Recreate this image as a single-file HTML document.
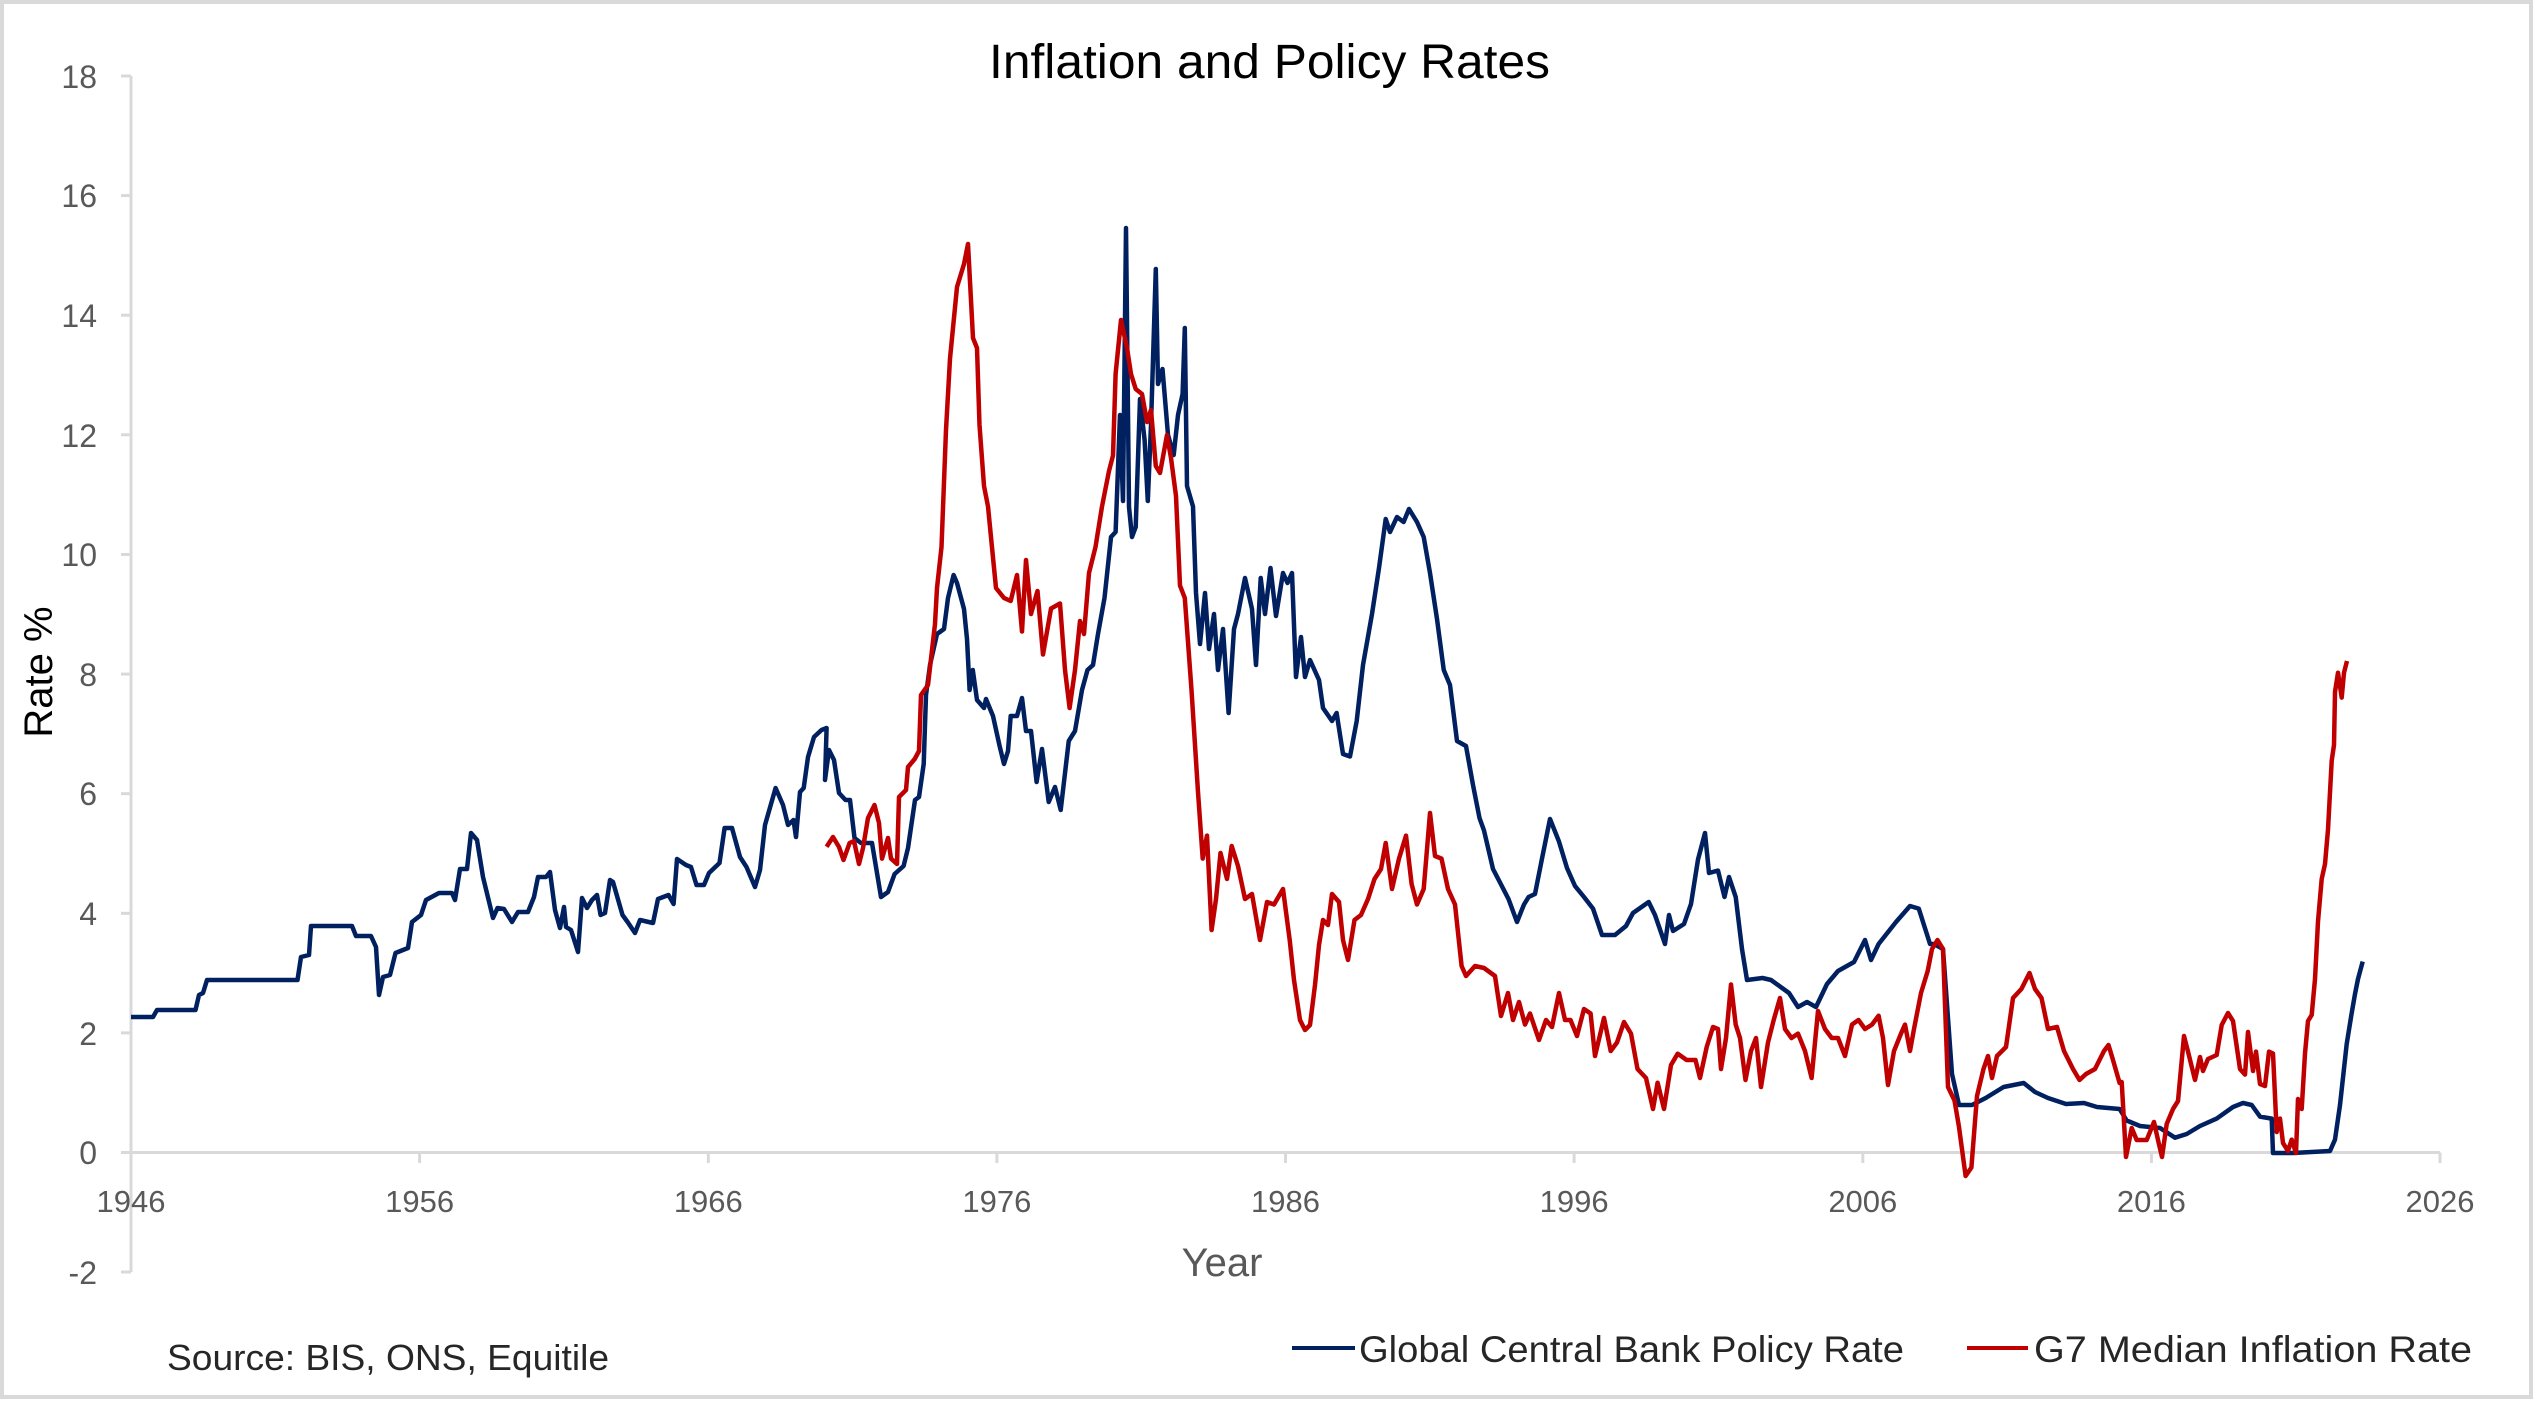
<!DOCTYPE html>
<html><head><meta charset="utf-8"><style>
html,body{margin:0;padding:0;background:#fff;}
svg{display:block;}
text{font-family:"Liberation Sans",sans-serif;}
</style></head><body>
<svg width="2538" height="1401" viewBox="0 0 2538 1401" xmlns="http://www.w3.org/2000/svg">
<rect x="0" y="0" width="2538" height="1401" fill="#fff"/>
<rect x="2" y="2" width="2529" height="1395" fill="none" stroke="#d9d9d9" stroke-width="4"/>
<text x="989" y="78" font-size="48" fill="#000" textLength="561" lengthAdjust="spacingAndGlyphs">Inflation and Policy Rates</text>
<g stroke="#d9d9d9" stroke-width="3" fill="none">
<line x1="131" y1="76" x2="131" y2="1272"/>
<line x1="121" y1="1152.5" x2="2440" y2="1152.5"/>
<line x1="121" y1="76" x2="131" y2="76"/>
<line x1="121" y1="195.6" x2="131" y2="195.6"/>
<line x1="121" y1="315.2" x2="131" y2="315.2"/>
<line x1="121" y1="434.8" x2="131" y2="434.8"/>
<line x1="121" y1="554.5" x2="131" y2="554.5"/>
<line x1="121" y1="674.1" x2="131" y2="674.1"/>
<line x1="121" y1="793.7" x2="131" y2="793.7"/>
<line x1="121" y1="913.3" x2="131" y2="913.3"/>
<line x1="121" y1="1032.9" x2="131" y2="1032.9"/>
<line x1="121" y1="1272" x2="131" y2="1272"/>
<line x1="419.6" y1="1152.5" x2="419.6" y2="1163"/>
<line x1="708.3" y1="1152.5" x2="708.3" y2="1163"/>
<line x1="996.9" y1="1152.5" x2="996.9" y2="1163"/>
<line x1="1285.5" y1="1152.5" x2="1285.5" y2="1163"/>
<line x1="1574.1" y1="1152.5" x2="1574.1" y2="1163"/>
<line x1="1862.8" y1="1152.5" x2="1862.8" y2="1163"/>
<line x1="2151.4" y1="1152.5" x2="2151.4" y2="1163"/>
<line x1="2440" y1="1152.5" x2="2440" y2="1163"/>
</g>
<g font-size="32" fill="#595959" text-anchor="end">
<text x="97" y="88">18</text>
<text x="97" y="207">16</text>
<text x="97" y="327">14</text>
<text x="97" y="447">12</text>
<text x="97" y="566">10</text>
<text x="97" y="686">8</text>
<text x="97" y="805">6</text>
<text x="97" y="925">4</text>
<text x="97" y="1045">2</text>
<text x="97" y="1164">0</text>
<text x="97" y="1284">-2</text>
</g>
<g font-size="31" fill="#595959" text-anchor="middle">
<text x="131" y="1212">1946</text>
<text x="419.6" y="1212">1956</text>
<text x="708.3" y="1212">1966</text>
<text x="996.9" y="1212">1976</text>
<text x="1285.5" y="1212">1986</text>
<text x="1574.1" y="1212">1996</text>
<text x="1862.8" y="1212">2006</text>
<text x="2151.4" y="1212">2016</text>
<text x="2440" y="1212">2026</text>
</g>
<text x="1222" y="1276" font-size="40" fill="#595959" text-anchor="middle">Year</text>
<text transform="translate(52,672) rotate(-90)" font-size="40" fill="#000" text-anchor="middle">Rate %</text>
<text x="167" y="1370" font-size="36" fill="#262626" textLength="442" lengthAdjust="spacingAndGlyphs">Source: BIS, ONS, Equitile</text>
<line x1="1292" y1="1348" x2="1355" y2="1348" stroke="#002060" stroke-width="4"/>
<text x="1359" y="1362" font-size="37" fill="#262626" textLength="545" lengthAdjust="spacingAndGlyphs">Global Central Bank Policy Rate</text>
<line x1="1967" y1="1348" x2="2028" y2="1348" stroke="#c00000" stroke-width="4"/>
<text x="2034" y="1362" font-size="37" fill="#262626" textLength="438" lengthAdjust="spacingAndGlyphs">G7 Median Inflation Rate</text>

<polyline fill="none" stroke="#002060" stroke-width="4.5" stroke-linejoin="round" points="
131,1017 153,1017 157,1010 195.5,1010 199,995 203,993 207,980 297.5,980 301,957 309,955 311,926 352,926 356,936 371,936 376,947 379,995 383,977 390,975 395.5,953 408,948 412,922 421,915 426,900 439,893 452,893 455,900 460,869 467,869 471,833 477,840 483,877 493,918 497.5,908 504,909 512,922 518,912 528,912 534,897 538,877 546,877 550,872 555,910 560,928 564,907 566,927 571,930 578,952 582,898 587,908 592,900 597,895 600.6,915 605,913 610,880 613,882 622.5,915 627.6,922 635,933 640,920 653,923 658,899 668.5,895 673.6,904 677,859 686,865 691,867 696.5,885 704,885 709,873 719.5,863 724.6,828 732,828 740,857 746.5,867 755,887 760,870 765,825 775.6,788 783,805 788,825 793.5,820 796,837 800,792 803.7,788 808,757 814,737 821.5,730 826.6,728 825,780 829,750 834,760 839,793 845.5,800
850,800 854.5,838 861,843 872,843 881,897 888,892 894.6,874 903.6,866 908,848 915,800 919,797 923.7,764 926,695 930,665 937,634 944,629 948,598 953.6,575 957,583 964,609 967,639 969.6,690 972.8,670 977,700 984,708 986,699 993,716 999.6,746 1004,764 1008,751 1010.7,716 1017,716 1022,698 1026,731 1031,731 1036.6,782 1042,749 1048.7,802 1055,787 1060.7,810 1068.75,741 1075,731 1082,690 1087.5,670 1093,665 1098,634 1104.5,598 1111,537 1115.6,532 1120,415 1123,501 1126,228 1129,507 1132,537 1135.7,527 1140,399 1144.6,440 1147.8,501 1151,425 1155.8,269 1158,384 1162.5,369 1168,435 1173.7,455 1178,415 1182.6,394 1184.8,328 1187,486 1193,506.5 1196,593 1200,644 1205,593 1209,649 1214,614 1218,670 1223,629 1228.6,713 1234,629 1238,614 1245,578 1252,609 1256,665 1260.7,578 1265,614 1270.5,568 1276,616 1283,573 1287.5,583 1292,573 1296,677 1301,637 1305,677 1310,660 1319,680 1323,708 1332,721 1336.6,713 1343,754 1350,756.5 1356.7,721 1363,665 1372,614 1379,568 1385.7,519 1390,532 1397,517 1403.6,522 1409,509 1417,522 1423.7,537 1430,573 1437,619 1443.75,670 1450,685 1457,741 1466,746 1473,785 1479.5,818 1484,830.5 1493,869 1499.5,881.5 1508.5,899 1517,922 1524,904.5 1528.6,897 1535,894 1542,858.6 1550,819
1559,841.6 1567,868 1575,886 1584,897 1593,908.6 1602,935 1615,935 1626,926 1633,913 1648.7,902 1655,915 1665,944 1669,915 1673,931 1684,924 1691,904 1698,859.5 1705,833 1709,873 1718,870.6 1724.5,897 1729,877 1735.7,897 1742,949 1747,980 1762.5,978 1771,980 1789,993 1798,1007 1807,1002 1816,1007 1827,984 1838,971 1854,962 1865,940 1871,960 1878.6,944 1896,922 1910,906 1918.75,908.6 1930,944 1934,944 1943,949 1952,1074 1959,1105 1972,1105 1985.7,1098 2003.6,1087 2023.7,1083 2035,1092 2048,1098 2066,1104 2084,1103 2097,1107 2119.6,1109 2126.7,1120.5 2140,1126 2160,1128 2175,1137.7 2186.7,1134 2200,1126 2216.7,1118.6 2233,1107 2243,1103 2251.7,1105 2260,1116.6 2271.7,1118.6 2273,1153 2293,1153 2330,1151 2335,1139.6 2340,1105 2346.7,1044 2351.7,1013 2355,994 2358,979 2362.7,961.6"/>

<polyline fill="none" stroke="#c00000" stroke-width="4.5" stroke-linejoin="round" points="
826.6,846.7 833,837 839,847 843.5,860 849.6,843 854,841 859,864 863,848 868,818 874.5,805 879,823 882,858.6 888,838 891,858.6 897,864 899,797 906,790 908,767 914.7,759 919,751 921,695 928,685 935,624 937,588 941.5,547 946,430 950,358.6 957,287 964,264 968,244 973,338 977,348 979.5,425 984,486 988,506.5 993,557.6 996,588 1004,598 1010.7,601 1017,575 1022,631.5 1026,560 1031,614 1037.5,591 1043,654.5 1051,608.6 1060,603.5 1065,670 1069.6,708 1075,670 1080,621 1084,634 1089,573 1095.5,547 1102,506.5 1109,471 1113,455.5 1115.6,374 1121,320 1127,348 1131,374 1135.7,389 1142,394 1147,422 1151,410 1155.8,466 1160,473 1167,435 1171,458 1176,496 1180,585.6 1184.8,598 1191.5,690 1198,792 1202.7,858.6 1207,835.6 1211.6,930 1216,899 1220.5,853 1227,879 1231.7,846 1238,866 1245,899 1252,894 1260,940 1267,902 1274,904.5 1283,889 1289.7,940 1294,980 1300,1020 1305,1030 1310,1025 1315,985 1319,945 1323,920 1328,925 1332,894 1339,902 1343,940 1348,960 1354.5,920 1361,915 1368,899 1374.5,879 1381,869 1385.7,843 1392,889 1399,858.6 1406,835.6 1411.6,884 1417,904.5 1423.7,889 1430,813 1435,856 1441.5,858.6 1448,889 1455,904.5 1461.6,966 1466,976 1475,966 1484,968 1495,976
1501,1016 1508,993 1513,1020 1519,1002 1525,1024.6 1530,1013.5 1539,1040 1546,1020 1552,1027 1559,993 1565,1020 1570.5,1020 1577,1036 1584,1009 1590.6,1013.5 1595,1056 1604,1018 1610.7,1051 1617,1042.5 1624,1022 1631,1033.6 1637.5,1069 1646,1078 1653,1109 1657.6,1082.7 1664,1109 1671,1065 1677.7,1053.7 1686.6,1060 1695.5,1060 1700,1078 1706.7,1047 1713,1027 1718,1029 1721,1069 1726,1038 1731,984.5 1735.7,1024.6 1740,1038 1745.5,1080 1751,1051 1756,1038 1761,1087 1768,1042.5 1773.7,1020 1780,998 1785,1029 1791.5,1038 1798,1033.6 1805,1051 1811.6,1078 1818,1011 1825,1029 1831.7,1038 1838,1038 1845,1056 1852,1024.6 1858.5,1020 1865,1029 1872,1024.6 1878.6,1015.7 1883,1038 1888,1085 1894,1051 1901,1033.6 1905,1024.6 1910,1051 1914,1029 1921,993 1927.7,971 1932,949 1937.5,940 1943,949 1948,1087 1954.5,1100.5 1959,1127 1965.6,1176 1971.4,1167.5 1977,1096 1983.5,1069 1988,1056 1992,1078 1997,1056 2006,1047 2013,998 2021.4,989 2029.5,973 2035,989 2041.5,998 2048,1029 2057,1027 2064,1051 2073,1069 2079.5,1080 2086,1074 2095,1069 2104,1051 2108.5,1045 2113,1060 2119.6,1083 2121.7,1082 2126,1157 2131.7,1128 2136.7,1140 2146.7,1140 2154,1122 2158,1140 2162,1157 2166.7,1124 2173,1109 2178,1101 2184,1036 2188,1051.6 2195,1080 2200,1057 2203,1071 2208,1059 2216.7,1055 2221.7,1025 2228,1013 2233,1021 2240,1069 2245,1074.6 2248,1032 2253,1071 2256,1051.6 2260,1084 2265,1086 2269,1051.6 2273,1053.5 2276.7,1132 2280,1118.6 2283,1143 2288,1151 2291.7,1139.6 2296,1153 2298,1099 2301.7,1109 2305,1053.5 2308,1021 2311.7,1015 2315,979 2318,921.5 2321.7,879 2325,864 2328,829.6 2331.7,760.7 2334,745 2335,692 2338,672.7 2341.7,697.6 2344,672.7 2347,661"/>
</svg>
</body></html>
